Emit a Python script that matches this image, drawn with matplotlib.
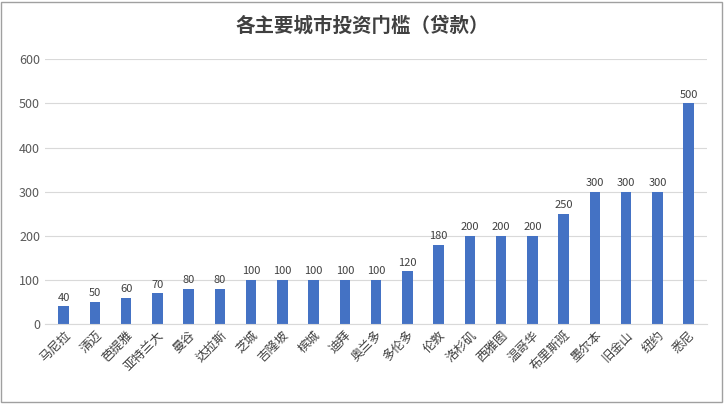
import matplotlib
matplotlib.use("Agg")
import matplotlib.pyplot as plt
from matplotlib import font_manager as fm

cities = ["马尼拉","清迈","芭提雅","亚特兰大","曼谷","达拉斯","芝城","吉隆坡","槟城","迪拜","奥兰多","多伦多",
          "伦敦","洛杉矶","西雅图","温哥华","布里斯班","墨尔本","旧金山","纽约","悉尼"]
values = [40,50,60,70,80,80,100,100,100,100,100,120,180,200,200,200,250,300,300,300,500]
yticks = [0,100,200,300,400,500,600]

names = {f.name for f in fm.fontManager.ttflist}
cjk = next((n for n in ["Noto Sans CJK SC","Noto Sans CJK JP","Noto Sans CJK TC","Noto Sans CJK KR"] if n in names), None)
if cjk is None:
    for f in fm.fontManager.ttflist:
        if "CJK" in f.name or "CJK" in f.fname:
            cjk = f.name; break
plt.rcParams["font.family"] = "sans-serif"
plt.rcParams["font.sans-serif"] = ([cjk] if cjk else []) + ["DejaVu Sans"]

fig = plt.figure(figsize=(7.24,4.04), dpi=100)
ax = fig.add_axes([0.062, 0.198, 0.915, 0.655])
x = range(len(cities))
ax.bar(x, values, width=0.33, color="#4472C4")
for xi, v in zip(x, values):
    ax.text(xi, v+8, str(v), ha="center", va="bottom", fontsize=8, color="#404040")
ax.set_ylim(0,600)
ax.set_yticks(yticks)
ax.set_yticklabels([str(t) for t in yticks], fontsize=9, color="#595959")
ax.set_xlim(-0.6, len(cities)-0.4)
ax.set_xticks(list(x))
ax.set_xticklabels(cities, rotation=45, ha="right", rotation_mode="anchor", fontsize=9, color="#404040")
ax.tick_params(length=0)
ax.grid(axis="y", color="#D9D9D9", linewidth=0.8)
ax.set_axisbelow(True)
for s in ["top","right","left"]:
    ax.spines[s].set_visible(False)
ax.spines["bottom"].set_color("#D9D9D9")
fig.text(0.5, 0.935, "各主要城市投资门槛（贷款）", ha="center", va="center", fontsize=14, fontweight="bold", color="#404040")
fig.patches.append(plt.Rectangle((0.002,0.004),0.995,0.99, transform=fig.transFigure, fill=False, edgecolor="#A0A0A0", linewidth=1))
fig.savefig("out.png", dpi=100)
